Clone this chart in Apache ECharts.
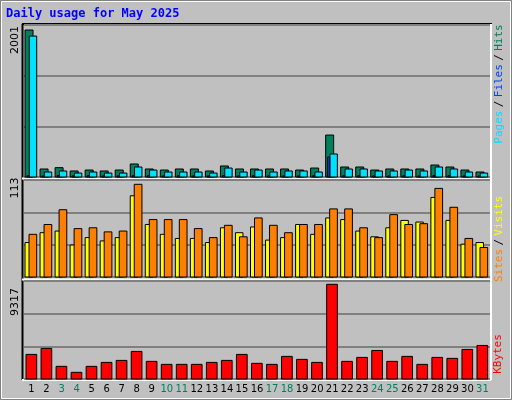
<!DOCTYPE html>
<html><head><meta charset="utf-8">
<script src="https://cdn.jsdelivr.net/npm/echarts@6/dist/echarts.min.js"></script>
<style>html,body{margin:0;padding:0;background:#c0c0c0}#c{width:512px;height:400px}</style>
</head><body><div id="c"></div>
<script>
const days = ['1','2','3','4','5','6','7','8','9','10','11','12','13','14','15','16','17','18','19','20','21','22','23','24','25','26','27','28','29','30','31'];
const weekend = [3,4,10,11,17,18,24,25,31];
const hits  = [2001,109,127,82,95,82,95,177,109,95,109,109,82,150,109,109,109,109,95,122,571,136,136,95,109,109,109,163,136,95,68];
const files = [1918,68,82,54,68,54,54,136,95,68,68,68,54,122,68,95,68,82,82,68,313,109,109,82,82,95,82,136,109,68,54];
const pages = [20,15,20,15,18,15,15,20,18,15,18,15,15,20,15,18,15,15,15,18,272,18,18,15,15,18,15,20,18,15,15];
const sites  = [42,54,56,39,48,44,48,99,64,52,47,47,42,60,54,61,45,48,64,52,72,70,56,49,60,69,67,97,69,40,42];
const visits = [52,64,82,59,60,55,56,113,70,70,70,59,48,63,49,72,63,54,64,64,83,83,60,48,76,64,65,108,85,47,36];
const kbytes = [2420,3010,1245,655,1245,1635,1830,2715,1735,1440,1440,1440,1635,1830,2420,1540,1440,2225,1930,1635,9317,1735,2125,2810,1735,2225,1440,2125,2030,2910,3300];
const maxHits = 2001, maxVisits = 113, maxK = 9317;

function barSeries(data, axisIdx, color, x0, x1){
  return {type:'custom', xAxisIndex:axisIdx, yAxisIndex:axisIdx, data:data.map((v,i)=>[i,v]),
    renderItem:function(params, api){
      const top = api.coord([api.value(0), api.value(1)]);
      const base = api.coord([api.value(0), 0]);
      return {type:'rect', shape:{x:top[0]+x0, y:top[1], width:x1-x0, height:base[1]-top[1]},
        style:{fill:color, stroke:'#000', lineWidth:1}};
    }};
}
const grids = [{left:24,right:22,top:25,height:152},{left:24,right:22,top:180,height:97},{left:24,right:22,top:281,height:98}];
const axisMax = [maxHits*152/147, maxVisits*97/92.7, maxK*98/94.7];
const chart = echarts.init(document.getElementById('c'));
chart.setOption({
  backgroundColor:'#c0c0c0', animation:false,
  grid:grids,
  xAxis:grids.map((g,i)=>({type:'category', gridIndex:i, data:days, boundaryGap:true,
    axisLine:{show:false}, axisTick:{show:false},
    axisLabel:{show:i===2, interval:0, fontFamily:'DejaVu Sans', fontSize:10, margin:5,
      color:function(v){return weekend.indexOf(+v)>=0?'#00805c':'#000';}}})),
  yAxis:grids.map((g,i)=>({type:'value', gridIndex:i, min:0, max:axisMax[i], interval:axisMax[i]/3,
    axisLabel:{show:false}, axisLine:{show:false}, axisTick:{show:false},
    splitLine:{show:true, lineStyle:{color:'#808080', width:2}}})),
  series:[
    barSeries(hits,0,'#00805c',-6.5,1.5),
    barSeries(files,0,'#00e0ff',-2.2,5.2),
    barSeries(pages,0,'#0040ff',-4.5,-2.5),
    barSeries(sites,1,'#ffff00',-6.5,1),
    barSeries(visits,1,'#ff8000',-2.5,5.2),
    barSeries(kbytes,2,'#ff0000',-5.5,5.2)
  ],
  graphic:[
    {type:'rect', shape:{x:0.5,y:0.5,width:511,height:399}, style:{fill:null, stroke:'#808080', lineWidth:1}, silent:true},
    {type:'rect', shape:{x:1.5,y:1.5,width:509,height:397}, style:{fill:null, stroke:'#ffffff', lineWidth:1}, silent:true},
    {type:'line', shape:{x1:22.5,y1:24,x2:22.5,y2:380}, style:{stroke:'#000',lineWidth:2}},
    {type:'line', shape:{x1:22,y1:24,x2:492,y2:24}, style:{stroke:'#000',lineWidth:2}},
    {type:'line', shape:{x1:491,y1:24,x2:491,y2:380}, style:{stroke:'#fff',lineWidth:2}},
    {type:'line', shape:{x1:22,y1:178.5,x2:491,y2:178.5}, style:{stroke:'#fff',lineWidth:2}},
    {type:'line', shape:{x1:22,y1:279.5,x2:491,y2:279.5}, style:{stroke:'#fff',lineWidth:2}},
    {type:'line', shape:{x1:22,y1:380,x2:491,y2:380}, style:{stroke:'#fff',lineWidth:2}},
    {type:'text', left:6, top:8, style:{text:'Daily usage for May 2025', fill:'#0000ff', font:'bold 12px "DejaVu Sans Mono"'}},
    {type:'text', x:10, y:40, rotation:Math.PI/2, style:{text:'2001', fill:'#000', font:'11px "DejaVu Sans"', textAlign:'center', textVerticalAlign:'top'}},
    {type:'text', x:10, y:188, rotation:Math.PI/2, style:{text:'113', fill:'#000', font:'11px "DejaVu Sans"', textAlign:'center', textVerticalAlign:'top'}},
    {type:'text', x:10, y:302, rotation:Math.PI/2, style:{text:'9317', fill:'#000', font:'11px "DejaVu Sans"', textAlign:'center', textVerticalAlign:'top'}},
    {type:'text', x:493, y:84, rotation:Math.PI/2, style:{
      text:'{p|Pages} {s|/} {f|Files} {s|/} {h|Hits}', textAlign:'center', textVerticalAlign:'top',
      rich:{p:{fill:'#00e0ff',font:'11px "DejaVu Sans Mono"'},f:{fill:'#0040ff',font:'11px "DejaVu Sans Mono"'},
            h:{fill:'#00805c',font:'11px "DejaVu Sans Mono"'},s:{fill:'#000',font:'11px "DejaVu Sans Mono"'}}}},
    {type:'text', x:493, y:239, rotation:Math.PI/2, style:{
      text:'{a|Sites} {s|/} {b|Visits}', textAlign:'center', textVerticalAlign:'top',
      rich:{a:{fill:'#ff8000',font:'11px "DejaVu Sans Mono"'},b:{fill:'#ffff00',font:'11px "DejaVu Sans Mono"'},
            s:{fill:'#000',font:'11px "DejaVu Sans Mono"'}}}},
    {type:'text', x:493, y:354, rotation:Math.PI/2, style:{text:'KBytes', fill:'#ff0000', font:'11px "DejaVu Sans Mono"', textAlign:'center', textVerticalAlign:'top'}}
  ]
});
</script></body></html>
